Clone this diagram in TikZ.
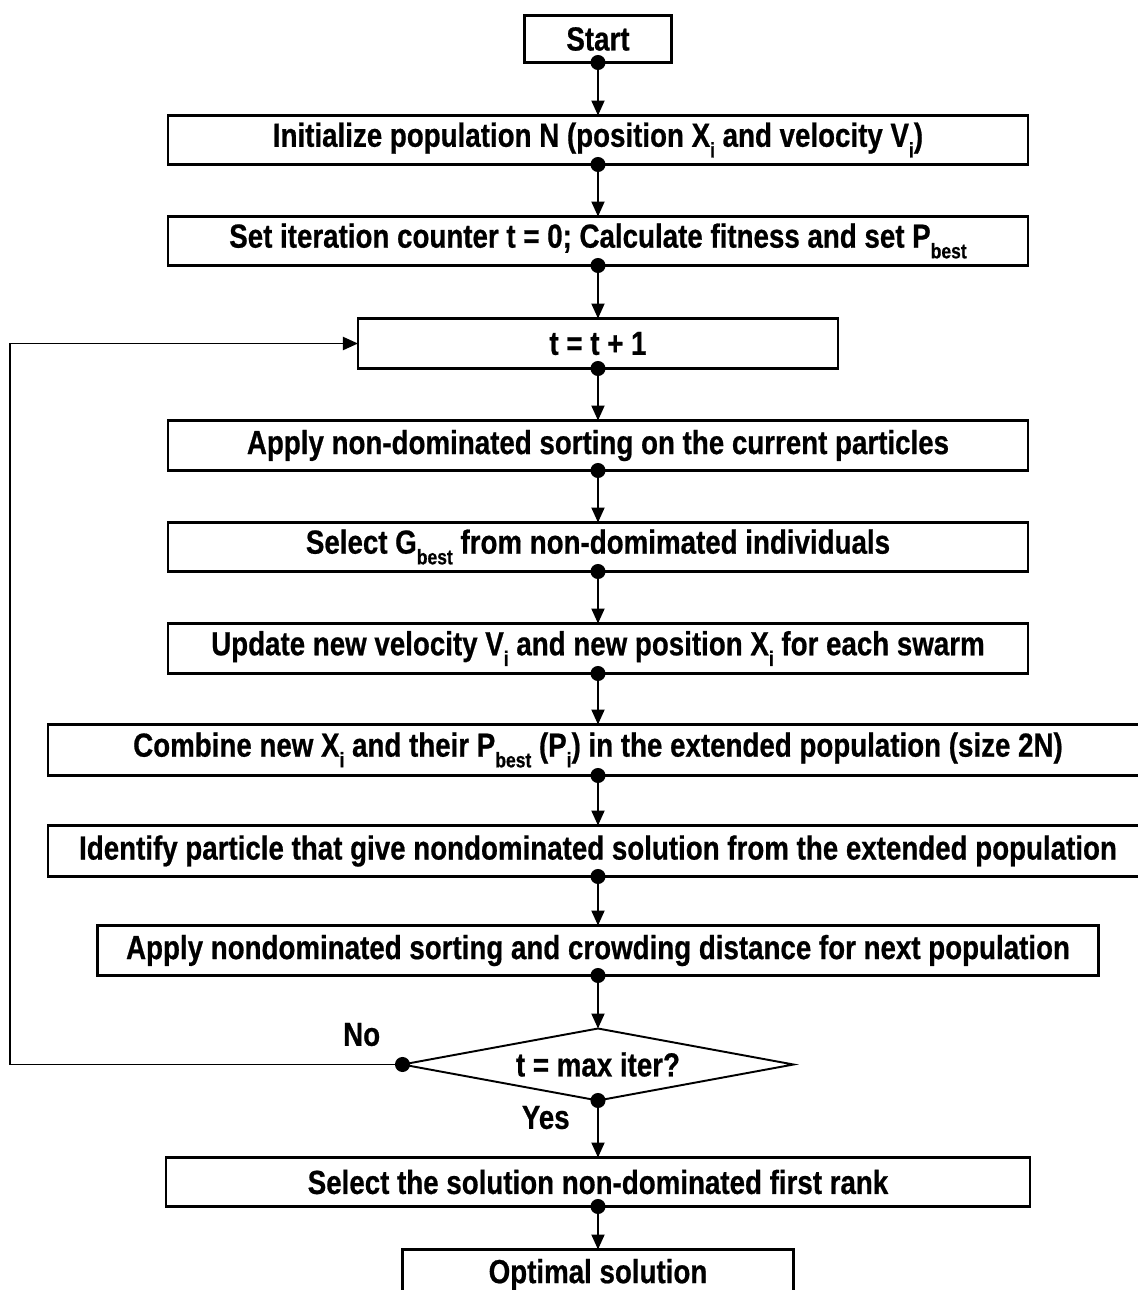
\documentclass[tikz,border=0pt]{standalone}
\usepackage{fontspec}
\newfontfamily\flowfont{Liberation Sans}[FakeStretch=0.83, BoldFeatures={FakeBold=0.6}]
\usepackage{tikz}
\usetikzlibrary{arrows.meta,positioning,shapes.geometric}
\newcommand{\lowidx}[1]{\raisebox{-0.32em}{\fontsize{12}{13}\selectfont #1}}

\tikzset{
  proc/.style={draw, line width=1.4pt, rectangle, minimum width=17.2cm, minimum height=0.98cm,
    inner sep=0pt, outer sep=0pt, font=\flowfont\bfseries\fontsize{19}{22}\selectfont},
  lbl/.style={inner sep=0pt, font=\flowfont\bfseries\fontsize{19}{22}\selectfont},
  flow/.style={line width=1.1pt, {Circle[length=0.3cm]}-{Triangle[length=0.3cm,width=0.26cm]},
    shorten <=-0.15cm}
}

\begin{document}
\begin{tikzpicture}[node distance=1.04cm]
\useasboundingbox (-11.96,0.78) rectangle (10.78,-25.02);
\node[proc, minimum width=2.94cm, minimum height=0.94cm] (start) {Start};
\node[proc, below=1.06cm of start] (init) {Initialize population N (position X\lowidx{i} and velocity V\lowidx{i})};
\node[proc, below=of init] (setp) {Set iteration counter t = 0; Calculate fitness and set P\lowidx{best}};
\node[proc, minimum width=9.6cm, minimum height=1cm, below=1.06cm of setp] (tstep) {t = t + 1};
\node[proc, minimum height=1cm, below=of tstep] (sort) {Apply non-dominated sorting on the current particles};
\node[proc, below=of sort] (gbest) {Select G\lowidx{best} from non-domimated individuals};
\node[proc, minimum height=1cm, below=of gbest] (update) {Update new velocity V\lowidx{i} and new position X\lowidx{i} for each swarm};
\node[proc, minimum width=22cm, minimum height=1.02cm, below=1.02cm of update] (combine) {Combine new X\lowidx{i} and their P\lowidx{best} (P\lowidx{i}) in the extended population (size 2N)};
\node[proc, minimum width=22cm, minimum height=1.02cm, below=1cm of combine] (ident) {Identify particle that give nondominated solution from the extended population};
\node[proc, minimum width=20.02cm, minimum height=1cm, below=0.98cm of ident] (crowd) {Apply nondominated sorting and crowding distance for next population};
\node[proc, line width=1.1pt, diamond, aspect=5.4, minimum width=7.82cm, minimum height=1.44cm, below=1.06cm of crowd] (check) {t = max iter?};
\node[proc, minimum width=17.28cm, below=1.14cm of check] (final) {Select the solution non-dominated first rank};
\node[proc, minimum width=7.82cm, minimum height=1cm, below=0.86cm of final] (optimal) {Optimal solution};

\foreach \a/\b in {start/init, init/setp, setp/tstep, tstep/sort, sort/gbest, gbest/update,
  update/combine, combine/ident, ident/crowd, crowd/check, check/final, final/optimal}
  \draw[flow] (\a.south) -- (\b.north);

\coordinate (edge) at (-11.76,0);
\draw[flow] (check.west) -- (check.west -| edge) |- (tstep.west);

\node[lbl, above left=0.36cm and 0.44cm of check.west] (no) {No};
\node[lbl, below left=0.1cm and 0.56cm of check.south] (yes) {Yes};
\end{tikzpicture}
\end{document}
